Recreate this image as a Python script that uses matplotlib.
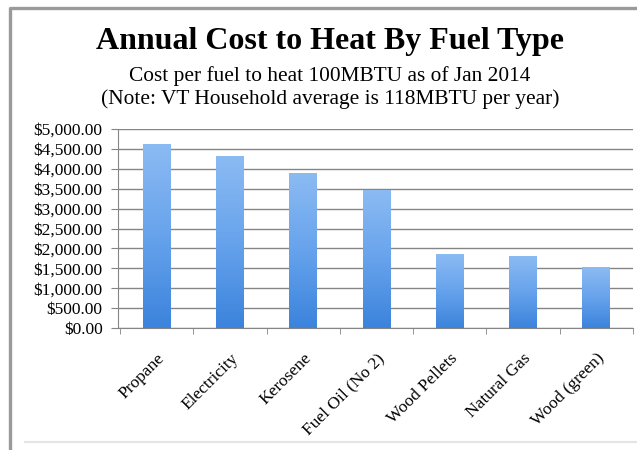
import numpy as np
import matplotlib
matplotlib.use("Agg")
import matplotlib.pyplot as plt
from matplotlib.lines import Line2D
from matplotlib.ticker import FuncFormatter, MultipleLocator, FixedLocator

fuels = ["Propane", "Electricity", "Kerosene", "Fuel Oil (No 2)",
         "Wood Pellets", "Natural Gas", "Wood (green)"]
costs = [4625, 4330, 3900, 3470, 1860, 1820, 1525]

title = "Annual Cost to Heat By Fuel Type"
subtitle = ("Cost per fuel to heat 100MBTU as of Jan 2014\n"
            "(Note: VT Household average is 118MBTU per year)")

plt.rcParams["font.family"] = ["Liberation Serif", "DejaVu Serif"]

fig = plt.figure(figsize=(6.37, 4.5), dpi=100)
fig.patch.set_facecolor("white")

# chart frame: solid left/top edges, faint bottom edge
W, H = 637.0, 450.0
fig.lines.append(Line2D([10 / W, 10 / W, 1.0], [0.0, 1 - 8 / H, 1 - 8 / H],
                        transform=fig.transFigure, color="#9a9a9a", lw=2.4))
fig.lines.append(Line2D([25 / W, 1.0], [1 - 442 / H, 1 - 442 / H],
                        transform=fig.transFigure, color="#e4e4e4", lw=1.5))

ax = fig.add_axes([118 / W, 1 - 328 / H, 515 / W, 199 / H])
x = np.arange(len(fuels))
bars = ax.bar(x, costs, width=0.38, color="#5c9ce8", zorder=2)

# vertical gradient on each bar
grad = np.linspace(0, 1, 256).reshape(-1, 1)
cmap = matplotlib.colors.LinearSegmentedColormap.from_list(
    "bar", ["#3b83dc", "#67a3ec", "#8cbbf3"])
for b in bars:
    x0, w, h = b.get_x(), b.get_width(), b.get_height()
    im = ax.imshow(grad, cmap=cmap, extent=[x0, x0 + w, 0, h],
                   origin="lower", aspect="auto", zorder=3)
    im.set_clip_path(b)

ax.set_xlim(-0.53, 6.5)
ax.set_ylim(0, 5000)
ax.yaxis.set_major_locator(MultipleLocator(500))
ax.yaxis.set_major_formatter(FuncFormatter(lambda v, p: "${:,.2f}".format(v)))
ax.grid(axis="y", color="#858585", lw=1.0, zorder=1)

ax.set_xticks(x)
ax.set_xticklabels(fuels, rotation=45, ha="right", rotation_mode="anchor",
                   fontsize=12.5)
ax.xaxis.set_minor_locator(FixedLocator(np.arange(-0.5, 7, 1.0)))
ax.tick_params(axis="x", which="major", length=0, pad=16)
ax.tick_params(axis="x", which="minor", length=4, color="#858585")
ax.tick_params(axis="y", length=5, color="#858585", labelsize=12.5, pad=6)

for side in ["top", "right"]:
    ax.spines[side].set_visible(False)
ax.spines["left"].set_color("#858585")
ax.spines["bottom"].set_color("#858585")

fig.text(330 / W, 1 - 42 / H, title, ha="center", va="center",
         fontsize=23, fontweight="bold")
fig.text(330 / W, 1 - 88 / H, subtitle, ha="center", va="center",
         fontsize=15.4, linespacing=1.22)

fig.savefig("out.png", dpi=100)
